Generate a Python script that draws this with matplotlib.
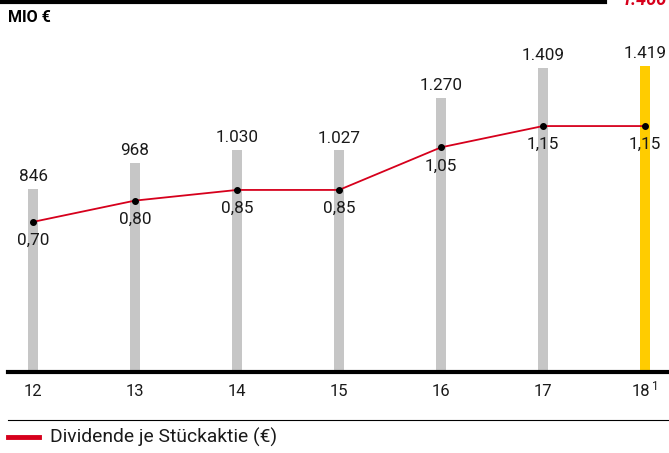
import matplotlib.pyplot as plt
from matplotlib.lines import Line2D

years = ['12', '13', '14', '15', '16', '17', '18']
year_notes = ['', '', '', '', '', '', '1']
payout = [846, 968, 1030, 1027, 1270, 1409, 1419]
payout_labels = ['846', '968', '1.030', '1.027', '1.270', '1.409', '1.419']
dividend = [0.70, 0.80, 0.85, 0.85, 1.05, 1.15, 1.15]
dividend_labels = ['0,70', '0,80', '0,85', '0,85', '1,05', '1,15', '1,15']

W, H = 669, 453
fig = plt.figure(figsize=(W / 100, H / 100), dpi=100)
plt.rcParams['font.family'] = ['Roboto', 'DejaVu Sans']
TXT = '#1a1a1a'
FS = 12.3

# axes: baseline at y=371 px, top at y=40 px
base = 371
ax = fig.add_axes([0, (H - base) / H, 1, (base - 40) / H])
ax2 = ax.twinx()

x = list(range(len(years)))
colors = ['#c6c6c6'] * 6 + ['#ffcc00']
ax.bar(x, payout, width=0.09, color=colors, zorder=1)
ax.set_xlim(-33 / 102, (W - 33) / 102)
ax.set_ylim(0, (base - 40) / 0.2148)

for xi, v, lab in zip(x, payout, payout_labels):
    ax.annotate(lab, (xi, v), xytext=(0, 3.5), textcoords='offset points',
                ha='center', va='bottom', fontsize=FS, color=TXT)

ax2.plot(x, dividend, color='#d6001c', lw=1.3, zorder=3)
ax2.plot(x, dividend, 'o', color='black', ms=4, zorder=4)
ax2.set_ylim(0, (base - 40) / 213)
for xi, v, lab in zip(x, dividend, dividend_labels):
    ax2.annotate(lab, (xi, v), xytext=(0, -8), textcoords='offset points',
                 ha='center', va='top', fontsize=FS, color=TXT)

for a in (ax, ax2):
    a.set_yticks([])
    for s in a.spines.values():
        s.set_visible(False)
ax.set_xticks([])

# baseline
fig.add_artist(Line2D([8 / W, 1], [(H - 372) / H] * 2, color='black', lw=3))
# year labels (footnote as superscript)
for xi, yl, note in zip(x, years, year_notes):
    px = 33 + 102 * xi
    if note:
        fig.text((px + 5) / W, (H - 392) / H, yl, ha='right', va='center',
                 fontsize=12, color=TXT)
        fig.text((px + 7) / W, (H - 386) / H, note, ha='left', va='center',
                 fontsize=8.5, color=TXT)
    else:
        fig.text(px / W, (H - 392) / H, yl, ha='center', va='center',
                 fontsize=12, color=TXT)

# separator and legend
fig.add_artist(Line2D([8 / W, 1], [(H - 420) / H] * 2, color='black', lw=0.8))
fig.add_artist(Line2D([8 / W, 39 / W], [(H - 437) / H] * 2, color='#d6001c', lw=3.5))
fig.text(50 / W, (H - 437) / H, 'Dividende je Stückaktie (€)', ha='left', va='center',
         fontsize=13.9, color=TXT)

# top rule and unit
fig.add_artist(Line2D([0, 605 / W], [(H - 2) / H] * 2, color='black', lw=3))
fig.text(622 / W, (H - 5) / H, '1.466', ha='left', va='baseline', fontsize=13,
         fontweight='bold', fontstyle='italic', color='#d6001c')
fig.text(8 / W, (H - 18) / H, 'MIO €', ha='left', va='center', fontsize=11.5,
         fontweight='bold', color='black')

fig.savefig('out.png', dpi=100)
